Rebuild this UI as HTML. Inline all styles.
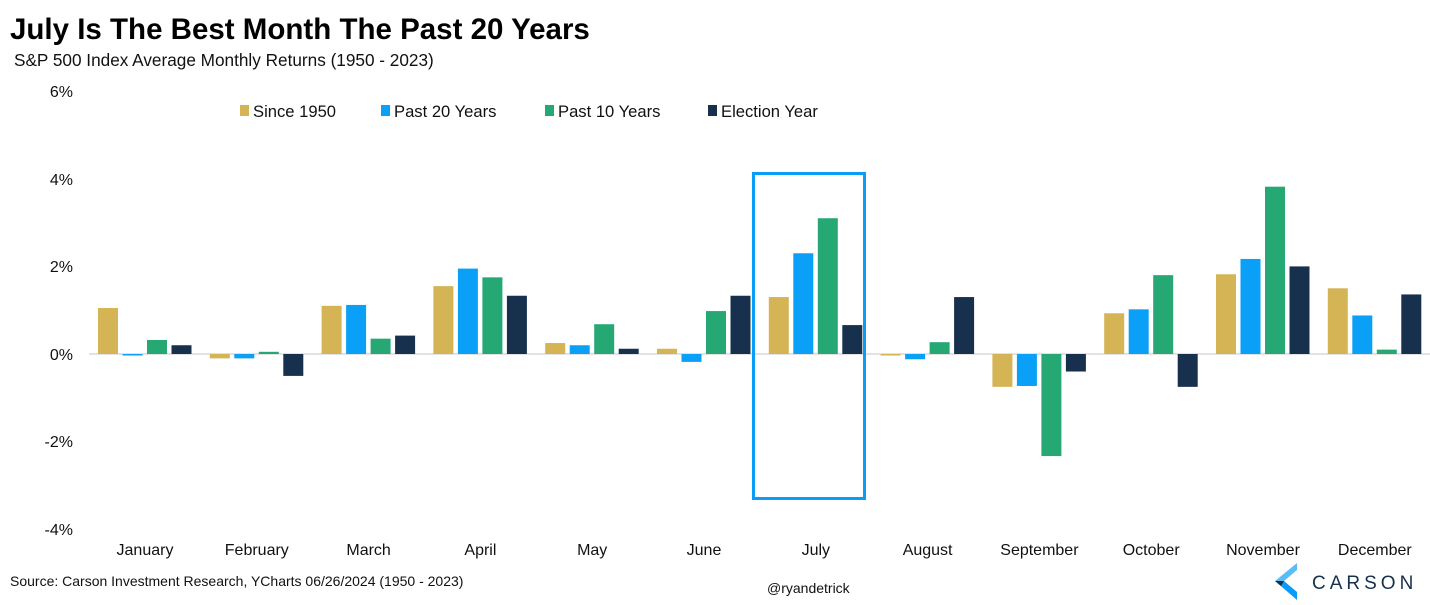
<!DOCTYPE html><html><head><meta charset="utf-8"><style>body{margin:0;background:#fff}svg{display:block}text{font-family:"Liberation Sans",Arial,sans-serif}</style></head><body>
<svg width="1430" height="605" viewBox="0 0 1430 605" xmlns="http://www.w3.org/2000/svg">
<text x="10" y="39" font-size="29.5" font-weight="bold" fill="#000">July Is The Best Month The Past 20 Years</text>
<text x="14" y="66" font-size="17.2" fill="#111">S&amp;P 500 Index Average Monthly Returns (1950 - 2023)</text>
<g font-size="16" fill="#111" text-anchor="end">
<text x="73" y="97">6%</text><text x="73" y="185">4%</text><text x="73" y="272">2%</text><text x="73" y="360">0%</text><text x="73" y="447">-2%</text><text x="73" y="535">-4%</text></g>
<line x1="89" y1="354" x2="1430" y2="354" stroke="#d9d9d9" stroke-width="1.5"/>
<g font-size="16.6" fill="#111">
<rect x="240" y="105" width="9" height="11" fill="#d4b454"/><text x="253" y="117">Since 1950</text>
<rect x="381" y="105" width="9" height="11" fill="#0aa0f8"/><text x="394" y="117">Past 20 Years</text>
<rect x="545" y="105" width="9" height="11" fill="#25a874"/><text x="558" y="117">Past 10 Years</text>
<rect x="708" y="105" width="9" height="11" fill="#17304d"/><text x="721" y="117">Election Year</text>
</g>
<g id="bars"></g>
<rect x="753.5" y="173.5" width="111" height="325" fill="none" stroke="#0a9cf7" stroke-width="3"/>
<g font-size="16" fill="#111" text-anchor="middle" id="labels"></g>
<text x="10" y="586" font-size="14" fill="#111">Source: Carson Investment Research, YCharts 06/26/2024 (1950 - 2023)</text>
<text x="767" y="593" font-size="14" fill="#111">@ryandetrick</text>
<polygon points="1297,563 1297,570 1284,581 1275,581" fill="#5bbcf7"/>
<polygon points="1275,581 1284,581 1297,592 1297,600" fill="#0a9cf7"/>
<polygon points="1275,581 1284,581 1281,586" fill="#17304d"/>
<text x="1312" y="589" font-size="19" fill="#17304d" letter-spacing="4">CARSON</text>
<script>
var d=[[1.05,-0.03,0.32,0.2],[-0.1,-0.1,0.05,-0.5],[1.1,1.12,0.35,0.42],[1.55,1.95,1.75,1.33],[0.25,0.2,0.68,0.12],[0.12,-0.18,0.98,1.33],[1.3,2.3,3.1,0.66],[-0.02,-0.12,0.27,1.3],[-0.75,-0.73,-2.33,-0.4],[0.93,1.02,1.8,-0.75],[1.82,2.17,3.82,2.0],[1.5,0.88,0.1,1.36]];
var m=["January","February","March","April","May","June","July","August","September","October","November","December"];
var c=["#d4b454","#0aa0f8","#25a874","#17304d"],ns="http://www.w3.org/2000/svg";
var g=document.getElementById("bars"),L=document.getElementById("labels");
for(var i=0;i<12;i++){var x0=89+i*111.8;
for(var j=0;j<4;j++){var v=d[i][j],h=Math.max(Math.abs(v)*43.8,1.5),y=v>=0?354-h:354;
var r=document.createElementNS(ns,"rect");r.setAttribute("x",x0+9+j*24.5);r.setAttribute("y",y);r.setAttribute("width",20);r.setAttribute("height",h);r.setAttribute("fill",c[j]);g.appendChild(r);}
var t=document.createElementNS(ns,"text");t.setAttribute("x",x0+56);t.setAttribute("y",555);t.textContent=m[i];L.appendChild(t);}
</script>
</svg></body></html>
